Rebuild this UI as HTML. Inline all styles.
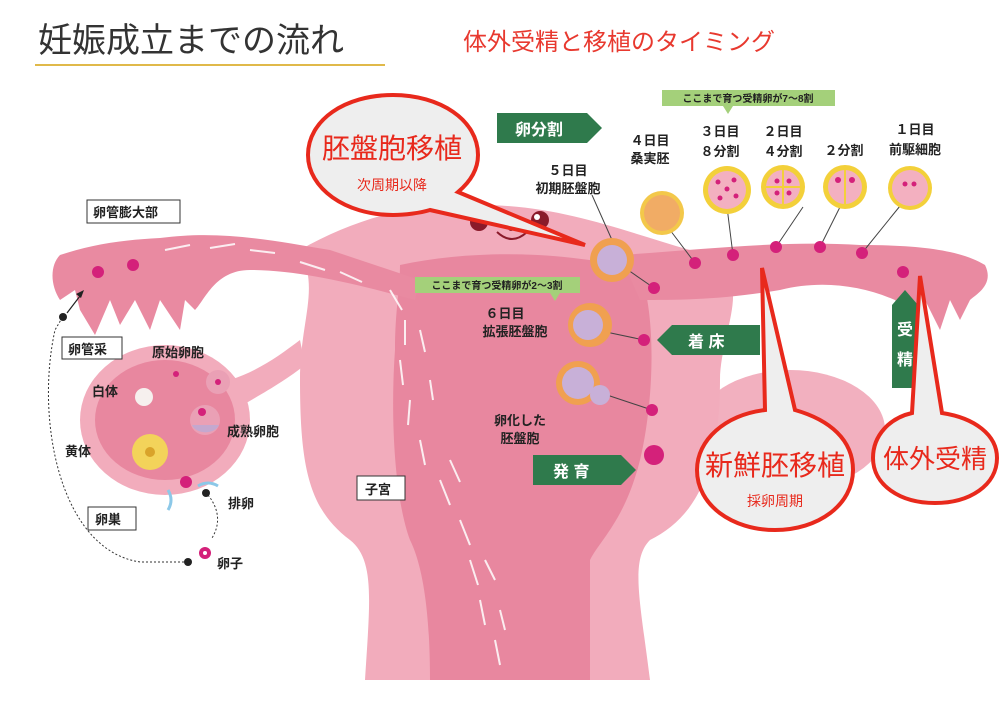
<!DOCTYPE html>
<html><head><meta charset="utf-8"><style>
html,body{margin:0;padding:0;background:#fff;}
svg{display:block}
text{font-family:"Liberation Sans","Noto Sans CJK JP",sans-serif;}
</style></head><body>
<svg width="1000" height="706" viewBox="0 0 1000 706" xmlns="http://www.w3.org/2000/svg">
<rect width="1000" height="706" fill="#fff"/>
<!-- title -->
<text x="38" y="52" font-size="34" fill="#333">妊娠成立までの流れ</text>
<rect x="35" y="64" width="350" height="2" fill="#e0b94a"/>
<text x="463" y="50" font-size="24" fill="#e8392f">体外受精と移植のタイミング</text>

<!-- right ovary lobe -->
<ellipse cx="790" cy="430" rx="95" ry="60" fill="#f2b0bf"/>
<!-- uterus outer -->
<path d="M300,250 C360,215 430,200 480,205 C560,205 620,230 690,250 L700,260 C760,270 720,330 720,380 C720,480 690,520 650,540 C630,560 640,600 650,680 L365,680 C370,600 375,560 350,540 C310,510 300,470 300,380 C300,320 320,290 300,250 Z" fill="#f2acbc"/>
<!-- uterus inner -->
<path d="M400,265 C470,250 560,250 640,270 C660,330 650,420 640,460 C625,520 600,540 590,560 L590,680 L430,680 C430,600 420,560 410,540 C395,500 390,420 395,350 C395,310 400,290 400,265 Z" fill="#e8879f"/>
<!-- left tube -->
<path d="M60,255 C90,245 120,240 160,238 C220,230 270,240 330,250 L420,280 L415,300 C360,285 300,270 250,270 C215,270 205,300 195,310 L185,300 L180,330 L160,300 L150,330 L135,300 L120,325 L110,300 L95,335 L80,310 L75,290 L60,300 C50,285 50,265 60,255 Z" fill="#e98aa1"/>
<!-- right tube -->
<path d="M620,255 C700,250 780,240 860,245 C920,245 960,250 985,265 C995,285 975,295 970,300 L960,320 L950,300 L940,330 L925,300 L910,320 L895,300 C860,285 820,280 780,290 C720,300 680,300 640,300 Z" fill="#e98aa1"/>
<!-- ovary -->
<ellipse cx="165" cy="420" rx="85" ry="75" fill="#f2acbc"/>
<ellipse cx="165" cy="420" rx="70" ry="60" fill="#e8879f"/>
<path d="M230,380 C260,370 280,355 300,340 L305,365 C280,385 250,400 235,410 Z" fill="#f2acbc"/>
<circle cx="150" cy="452" r="18" fill="#f3d35a"/><circle cx="150" cy="452" r="5" fill="#d9a32a"/>
<circle cx="144" cy="397" r="9" fill="#f6f0ee"/>
<circle cx="218" cy="382" r="12" fill="#eaa0b5"/><circle cx="218" cy="382" r="3" fill="#d4217a"/>
<circle cx="205" cy="420" r="15" fill="#eaa0b5"/><path d="M192,425 a14,10 0 0 0 27,0 Z" fill="#c4a8cf"/>
<circle cx="202" cy="412" r="4" fill="#d4217a"/>
<circle cx="186" cy="482" r="6" fill="#d4217a"/><circle cx="176" cy="374" r="3" fill="#d4217a"/>
<path d="M168,510 q6,-10 0,-20" stroke="#8cc8e8" stroke-width="3" fill="none"/>
<path d="M218,486 q-10,-6 -20,0" stroke="#8cc8e8" stroke-width="3" fill="none"/>
<!-- dashed path -->
<path d="M188,562 L140,562 C60,550 35,420 55,330 L62,318" stroke="#333" stroke-width="1" stroke-dasharray="2,2" fill="none"/>
<path d="M208,495 C220,510 220,525 212,538" stroke="#333" stroke-width="1" stroke-dasharray="2,2" fill="none"/>
<circle cx="188" cy="562" r="4" fill="#222"/><circle cx="206" cy="493" r="4" fill="#222"/><circle cx="63" cy="317" r="4" fill="#222"/>
<path d="M67,313 L80,296" stroke="#222" stroke-width="1.2"/><path d="M84,290 l-8,4 l5,4 z" fill="#222"/>
<circle cx="205" cy="553" r="6" fill="#d4217a"/><circle cx="205" cy="553" r="2" fill="#fff"/>
<circle cx="98" cy="272" r="6" fill="#d4217a"/><circle cx="133" cy="265" r="6" fill="#d4217a"/>
<!-- sperm streaks -->
<g stroke="#fff" stroke-width="2" opacity="0.85">
<path d="M165,250 l25,-5 M210,248 l25,-4 M250,250 l25,3 M300,262 l25,8 M340,272 l22,10 M390,290 l12,20 M405,320 l0,25 M400,360 l3,25 M410,400 l-2,25 M420,440 l5,25 M440,480 l10,25 M460,520 l10,25 M470,560 l8,25 M480,600 l5,25 M495,640 l5,25 M420,330 l5,22 M430,380 l3,20 M450,460 l10,22 M485,560 l10,20 M500,610 l5,20"/>
</g>
<!-- face -->
<circle cx="479" cy="222" r="9" fill="#8a1a2a"/><circle cx="540" cy="220" r="9" fill="#8a1a2a"/>
<circle cx="476" cy="219" r="3" fill="#fff"/><circle cx="537" cy="217" r="3" fill="#fff"/>
<path d="M497,232 q15,14 30,0" stroke="#8a1a2a" stroke-width="2" fill="none"/>
<circle cx="511" cy="228" r="2.5" fill="none" stroke="#8a1a2a"/>

<!-- embryo lines -->
<g stroke="#444" stroke-width="1">
<path d="M670,230 L695,263 M727,207 L733,255 M803,207 L776,247 M840,207 L820,247 M900,206 L862,253 M592,195 L612,240 M628,270 L654,288 M606,332 L644,340 M598,392 L652,410"/>
</g>
<!-- tube dots -->
<g fill="#d4217a">
<circle cx="695" cy="263" r="6"/><circle cx="733" cy="255" r="6"/><circle cx="776" cy="247" r="6"/><circle cx="820" cy="247" r="6"/><circle cx="862" cy="253" r="6"/><circle cx="903" cy="272" r="6"/>
<circle cx="654" cy="288" r="6"/><circle cx="644" cy="340" r="6"/><circle cx="652" cy="410" r="6"/><circle cx="654" cy="455" r="10"/>
</g>
<!-- embryos -->
<circle cx="662" cy="213" r="22" fill="#f3c84a"/><circle cx="662" cy="213" r="18" fill="#f0a070" opacity="0.7"/>
<circle cx="727" cy="190" r="24" fill="#f3d03a"/><circle cx="727" cy="190" r="19" fill="#f3b0c0"/>
<circle cx="783" cy="187" r="22" fill="#f3d03a"/><circle cx="783" cy="187" r="17" fill="#f3b0c0"/>
<path d="M783,170 v34 M766,187 h34" stroke="#f3d03a" stroke-width="2"/>
<circle cx="845" cy="187" r="22" fill="#f3d03a"/><circle cx="845" cy="187" r="17" fill="#f3b0c0"/><path d="M845,170 v34" stroke="#f3d03a" stroke-width="2"/>
<circle cx="910" cy="188" r="22" fill="#f3d03a"/><circle cx="910" cy="188" r="18" fill="#f3b0c0"/>
<g fill="#d4217a"><circle cx="838" cy="180" r="3"/><circle cx="852" cy="180" r="3"/><circle cx="905" cy="184" r="2.5"/><circle cx="914" cy="184" r="2.5"/><circle cx="777" cy="181" r="2.5"/><circle cx="789" cy="181" r="2.5"/><circle cx="777" cy="193" r="2.5"/><circle cx="789" cy="193" r="2.5"/><circle cx="718" cy="182" r="2.5"/><circle cx="734" cy="180" r="2.5"/><circle cx="720" cy="198" r="2.5"/><circle cx="736" cy="196" r="2.5"/><circle cx="727" cy="189" r="2.5"/></g>
<g>
<circle cx="612" cy="260" r="22" fill="#f0a050"/><circle cx="612" cy="260" r="15" fill="#c8b0d8"/>
<circle cx="590" cy="325" r="22" fill="#f0a050"/><circle cx="588" cy="325" r="15" fill="#c8b0d8"/>
<circle cx="578" cy="383" r="22" fill="#f0a050"/><circle cx="578" cy="383" r="16" fill="#c8b0d8"/><circle cx="600" cy="395" r="10" fill="#c8b0d8"/>
</g>
<!-- embryo labels -->
<g font-size="13" fill="#222" font-weight="bold" text-anchor="middle">
<text x="650" y="145">４日目</text><text x="650" y="163">桑実胚</text>
<text x="720" y="136">３日目</text><text x="720" y="156">８分割</text>
<text x="783" y="136">２日目</text><text x="783" y="156">４分割</text>
<text x="844" y="155">２分割</text>
<text x="915" y="134">１日目</text><text x="915" y="154">前駆細胞</text>
<text x="568" y="175">５日目</text><text x="568" y="193">初期胚盤胞</text>
<text x="505" y="318">６日目</text><text x="515" y="336">拡張胚盤胞</text>
<text x="520" y="425">卵化した</text><text x="520" y="443">胚盤胞</text>
</g>
<!-- green notes -->
<rect x="662" y="90" width="173" height="16" fill="#a4d07a"/><path d="M723,106 l5,8 l5,-8 z" fill="#a4d07a"/>
<text x="748" y="102" font-size="10" text-anchor="middle" fill="#222" font-weight="bold">ここまで育つ受精卵が7～8割</text>
<rect x="415" y="277" width="165" height="16" fill="#a4d07a"/><path d="M550,293 l5,8 l5,-8 z" fill="#a4d07a"/>
<text x="497" y="289" font-size="10" text-anchor="middle" fill="#222" font-weight="bold">ここまで育つ受精卵が2～3割</text>
<!-- green arrows -->
<g fill="#2f7a4c">
<path d="M497,113 h90 l15,15 l-15,15 h-90 z"/>
<path d="M672,325 h88 v30 h-88 l-15,-15 z"/>
<path d="M533,455 h88 l15,15 l-15,15 h-88 z"/>
<path d="M892,305 l13,-15 l13,15 v83 h-26 z"/>
</g>
<g fill="#fff" font-size="16" font-weight="bold">
<text x="515" y="135">卵分割</text><text x="688" y="347">着 床</text><text x="553" y="477">発 育</text>
<text x="897" y="335">受</text><text x="897" y="365">精</text>
</g>
<!-- label boxes -->
<g fill="#fff" stroke="#333" stroke-width="1"><rect x="87" y="200" width="93" height="23"/><rect x="62" y="337" width="60" height="22"/><rect x="88" y="507" width="48" height="23"/><rect x="357" y="476" width="48" height="24"/></g>
<g font-size="13" fill="#222" font-weight="bold">
<text x="93" y="217">卵管膨大部</text><text x="68" y="354">卵管采</text><text x="95" y="524">卵巣</text><text x="365" y="494">子宮</text>
<text x="152" y="357">原始卵胞</text><text x="92" y="396">白体</text><text x="65" y="456">黄体</text><text x="227" y="436">成熟卵胞</text><text x="228" y="508">排卵</text><text x="217" y="568">卵子</text>
</g>
<!-- callouts -->
<g stroke="#e8291c" stroke-width="4" fill="#eeeeee">
<path d="M393,95 C440,95 478,120 478,155 C478,170 470,182 458,192 L585,245 L430,210 C420,213 405,215 393,215 C345,215 308,188 308,155 C308,120 345,95 393,95 Z"/>
<path d="M765,410 L762,268 L795,410 C830,420 853,440 853,470 C853,505 818,530 775,530 C732,530 697,505 697,470 C697,440 725,415 765,410 Z"/>
<path d="M912,413 L920,276 L942,413 C975,418 997,435 997,458 C997,485 970,503 935,503 C900,503 873,485 873,458 C873,435 890,418 912,413 Z"/>
</g>
<g fill="#e8291c" text-anchor="middle">
<text x="392" y="158" font-size="28">胚盤胞移植</text><text x="392" y="190" font-size="14">次周期以降</text>
<text x="775" y="475" font-size="28">新鮮胚移植</text><text x="775" y="506" font-size="14">採卵周期</text>
<text x="935" y="468" font-size="26">体外受精</text>
</g>
</svg>
</body></html>
